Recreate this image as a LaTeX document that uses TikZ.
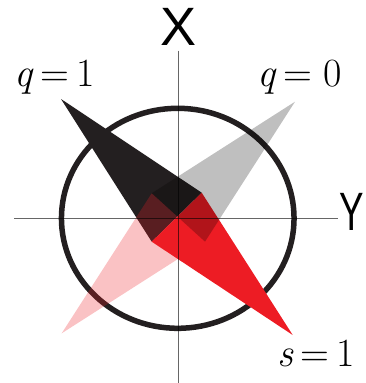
\documentclass[tikz,border=0pt]{standalone}
\usepackage{fontspec}
\setsansfont{Liberation Sans}
\definecolor{nblack}{HTML}{231F20}
\definecolor{nred}{HTML}{ED1C24}
\newcommand{\eqsp}{\hspace{0.18em}}
\begin{document}
\begin{tikzpicture}[x=1pt,y=-1pt,
  axis/.style={draw=black,draw opacity=0.6,line width=1pt},
  ring/.style={draw=nblack,line width=5.5pt},
  lbl/.style={inner sep=0pt,font=\fontsize{40}{40}\selectfont},
  axl/.style={inner sep=0pt,font=\sffamily\fontsize{54}{54}\selectfont}]
\useasboundingbox (0,0) rectangle (365,383);
% vertices
\coordinate (o) at (178,218.3);
\coordinate (bt) at (61,99);
\coordinate (rt) at (292.7,335);
\coordinate (b1) at (151.7,241.7);
\coordinate (b2) at (201.7,192.7);
\coordinate (gt) at (295,101.7);
\coordinate (pt) at (61.7,333.3);
\coordinate (g1) at (151.7,193.3);
\coordinate (g2) at (205,241.7);
% circle
\draw[ring] (177.75,218.3) ellipse [x radius=116.3, y radius=110];
% needles
\fill[nblack] (bt) -- (b1) -- (b2) -- cycle;
\fill[nred] (rt) -- (b1) -- (b2) -- cycle;
\fill[black,opacity=0.25] (gt) -- (g1) -- (g2) -- cycle;
\fill[nred,opacity=0.27] (pt) -- (g1) -- (g2) -- cycle;
% axes
\coordinate (xt) at (178,50.7);
\coordinate (xb) at (178,383);
\coordinate (yl) at (14,218.3);
\coordinate (yr) at (338,218.3);
\draw[axis] (xt) -- (xb);
\draw[axis] (yl) -- (yr);
% labels
\node[axl,anchor=base] (lx) at (179,45) {X};
\node[axl,anchor=base west,xscale=0.68] (ly) at (339,230) {Y};
\node[lbl,anchor=base west] (lq1) at (14,86) {\textit{q}\eqsp=\eqsp1};
\node[lbl,anchor=base west] (lq0) at (257,86) {\textit{q}\eqsp=\hspace{0.28em}0};
\node[lbl,anchor=base west] (ls1) at (277,366) {\textit{s}\eqsp=\eqsp1};
\end{tikzpicture}
\end{document}
